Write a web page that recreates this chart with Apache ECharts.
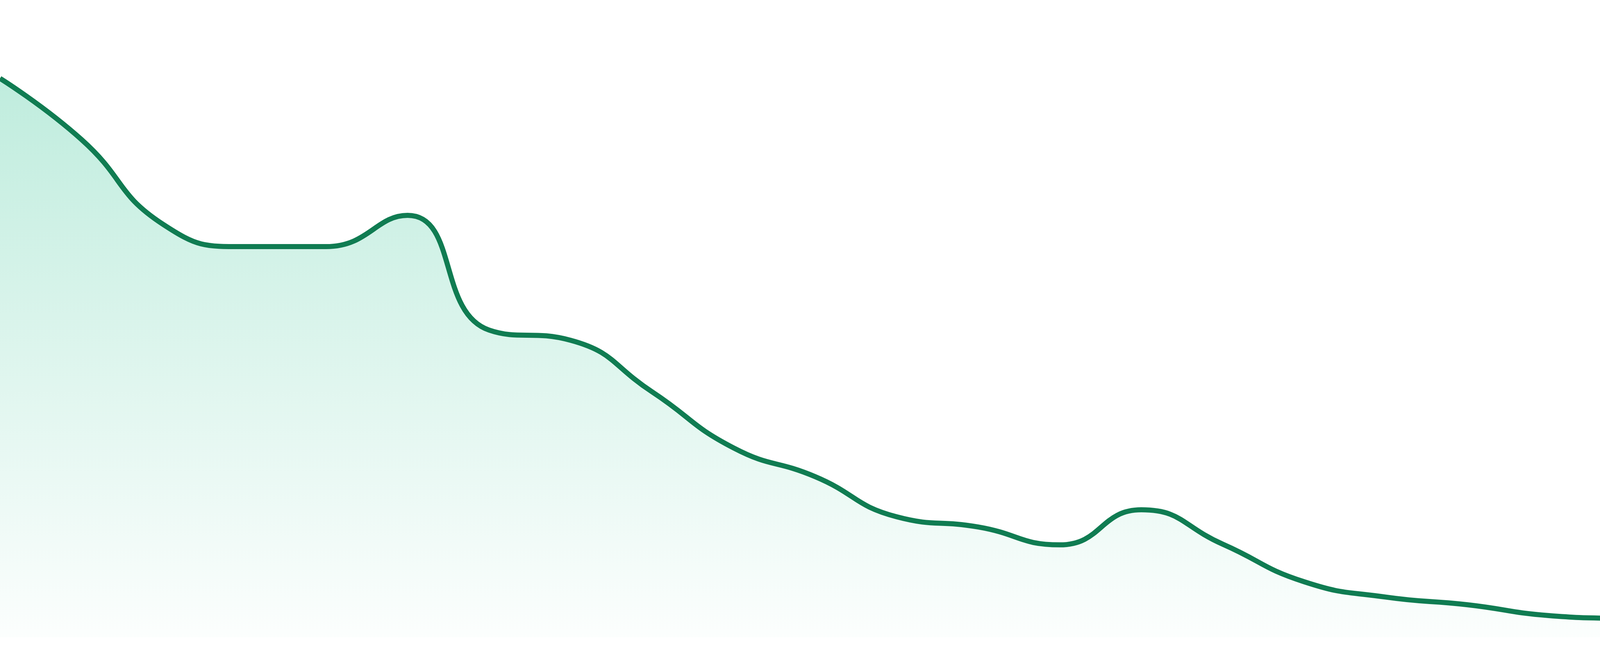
<!DOCTYPE html>
<html>
<head>
<meta charset="utf-8">
<script src="https://cdn.jsdelivr.net/npm/echarts@6/dist/echarts.min.js"></script>
<style>
  html, body { margin: 0; padding: 0; background: #ffffff; }
  #chart { width: 4800px; height: 1680px; }
</style>
</head>
<body>
<div id="chart"></div>
<script>
const categories = ["W1","W2","W3","W4","W5","W6","W7","W8","W9","W10","W11","W12",
                    "W13","W14","W15","W16","W17","W18","W19","W20","W21","W22","W23","W24"];
const values = [87.7, 78.1, 64.8, 61.3, 61.3, 66.2, 48.2, 46.6, 38.5, 29.7, 25.2, 18.9,
                17.3, 14.5, 20.0, 14.6, 8.7, 6.3, 5.1, 3.4, 2.9, 2.6, 2.9, 3.9];
const yMin = 0;
const yMax = 100;

const chart = echarts.init(document.getElementById('chart'), null, { renderer: 'canvas' });
chart.setOption({
  animation: false,
  backgroundColor: '#ffffff',
  grid: { left: 0, right: 0, top: 0, bottom: 48, containLabel: false },
  xAxis: {
    type: 'category',
    data: categories,
    boundaryGap: false,
    show: false
  },
  yAxis: {
    type: 'value',
    min: yMin,
    max: yMax,
    show: false,
    splitLine: { show: false }
  },
  series: [{
    type: 'line',
    data: values,
    smooth: true,
    symbol: 'none',
    lineStyle: { color: '#107c52', width: 13 },
    areaStyle: {
      color: new echarts.graphic.LinearGradient(0, 0, 0, 1, [
        { offset: 0, color: 'rgba(16,185,129,0.38)' },
        { offset: 1, color: 'rgba(16,185,129,0.02)' }
      ])
    }
  }]
});
</script>
</body>
</html>
